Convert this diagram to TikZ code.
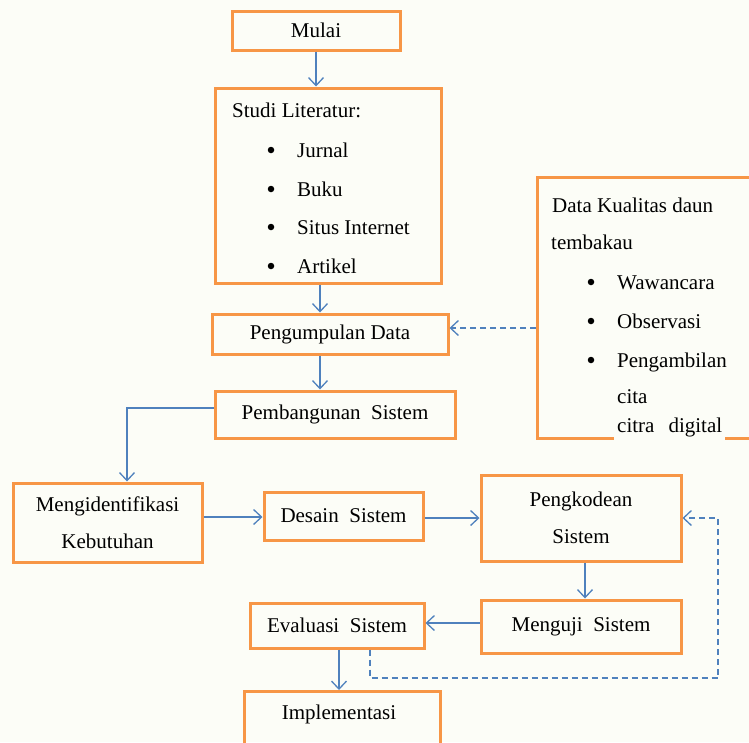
\documentclass[tikz,border=0pt]{standalone}
\usepackage{fontspec}
\setmainfont{Liberation Serif}
\usetikzlibrary{arrows.meta}
\definecolor{boxorange}{RGB}{247,150,70}
\definecolor{linkblue}{RGB}{79,129,189}
\definecolor{paper}{RGB}{252,253,247}
\tikzset{
  box/.style={draw=boxorange, line width=3pt, inner sep=0pt, align=center,
    font=\fontsize{21}{37}\selectfont},
  txt/.style={inner sep=0pt, anchor=base west, font=\fontsize{21}{25}\selectfont},
  bullet/.style={fill=black, circle, inner sep=0pt, minimum size=6.5pt},
  link/.style={draw=linkblue, line width=1.3pt, -{Straight Barb[length=8pt,width=15pt]}},
  dlink/.style={link, dash pattern=on 6pt off 4pt}
}
\begin{document}
\begin{tikzpicture}[x=1pt,y=-1pt]
\clip (0,0) rectangle (749,742);
\fill[paper] (0,0) rectangle (749,742);

% main column
\node[box, minimum width=168pt, minimum height=39pt] (mulai) at (316,30.5) {Mulai};
\node[box, minimum width=226pt, minimum height=195pt] (studi) at (328,185.5) {};
\node[txt] (studiT) at (232,117) {Studi Literatur:};
\node[bullet] (b1) at (271,150) {};
\node[txt] (t1) at (297,157) {Jurnal};
\node[bullet] (b2) at (271,189) {};
\node[txt] (t2) at (297,196) {Buku};
\node[bullet] (b3) at (271,227) {};
\node[txt] (t3) at (297,234) {Situs Internet};
\node[bullet] (b4) at (271,266) {};
\node[txt] (t4) at (297,273) {Artikel};

\node[box, minimum width=236pt, minimum height=40pt] (pd) at (330,334) {Pengumpulan Data};
\node[box, minimum width=240pt, minimum height=47pt] (pb) at (335,414.5) {Pembangunan\ \ Sistem};

% data source box (runs past the right edge)
\node[box, anchor=north west, minimum width=260pt, minimum height=261pt] (dk) at (536,176) {};
\node[txt] (dkT1) at (552,212) {Data Kualitas daun};
\node[txt] (dkT2) at (551,249) {tembakau};
\node[bullet] (db1) at (591,282) {};
\node[txt] (dt1) at (617,289) {Wawancara};
\node[bullet] (db2) at (591,321) {};
\node[txt] (dt2) at (617,328) {Observasi};
\node[bullet] (db3) at (591,360) {};
\node[txt] (dt3) at (617,367) {Pengambilan};
\node[txt] (dt4) at (617,403) {cita};
\node[txt, fill=paper, text width=111pt, inner ysep=6pt, inner xsep=0pt] (dt5) at (614,432) {\hspace*{3pt}citra\ \ digital};

% development cycle
\node[box, minimum width=189pt, minimum height=79pt] (mk) at (107.5,522.5) {Mengidentifikasi\\Kebutuhan};
\node[box, minimum width=159pt, minimum height=48pt] (ds) at (343.5,516) {Desain\ \ Sistem};
\node[box, minimum width=200pt, minimum height=86pt] (pk) at (581,518) {Pengkodean\\Sistem};
\node[box, minimum width=200pt, minimum height=53pt] (mg) at (581,626.5) {Menguji\ \ Sistem};
\node[box, minimum width=174pt, minimum height=45pt] (ev) at (337,625.5) {Evaluasi\ \ Sistem};
\node[box, anchor=north, minimum width=196pt, minimum height=54pt] (im) at (342,690) {};
\node[txt, anchor=base] (imT) at (339,719) {Implementasi};

% connectors
\draw[link] (mulai.south) -- (mulai.south |- studi.north);
\draw[link] (studi.south -| 320,0) -- (pd.north -| 320,0);
\draw[link] (pd.south -| 320,0) -- (pb.north -| 320,0);
\draw[link] (pb.west |- 0,408) -| (mk.north -| 127,0);
\draw[link] (mk.east |- 0,517) -- (ds.west |- 0,517);
\draw[link] (ds.east |- 0,518) -- (pk.west |- 0,518);
\draw[link] (pk.south -| 585,0) -- (mg.north -| 585,0);
\draw[link] (mg.west |- 0,623) -- (ev.east |- 0,623);
\draw[link] (ev.south -| 339,0) -- (im.north -| 339,0);
\draw[dlink] (dk.west |- 0,328) -- (pd.east |- 0,328);
\draw[dlink] (ev.south -| 370,0) -- (370,678) -- (718,678) -- (718,518) -- (pk.east |- 0,518);
\end{tikzpicture}
\end{document}
